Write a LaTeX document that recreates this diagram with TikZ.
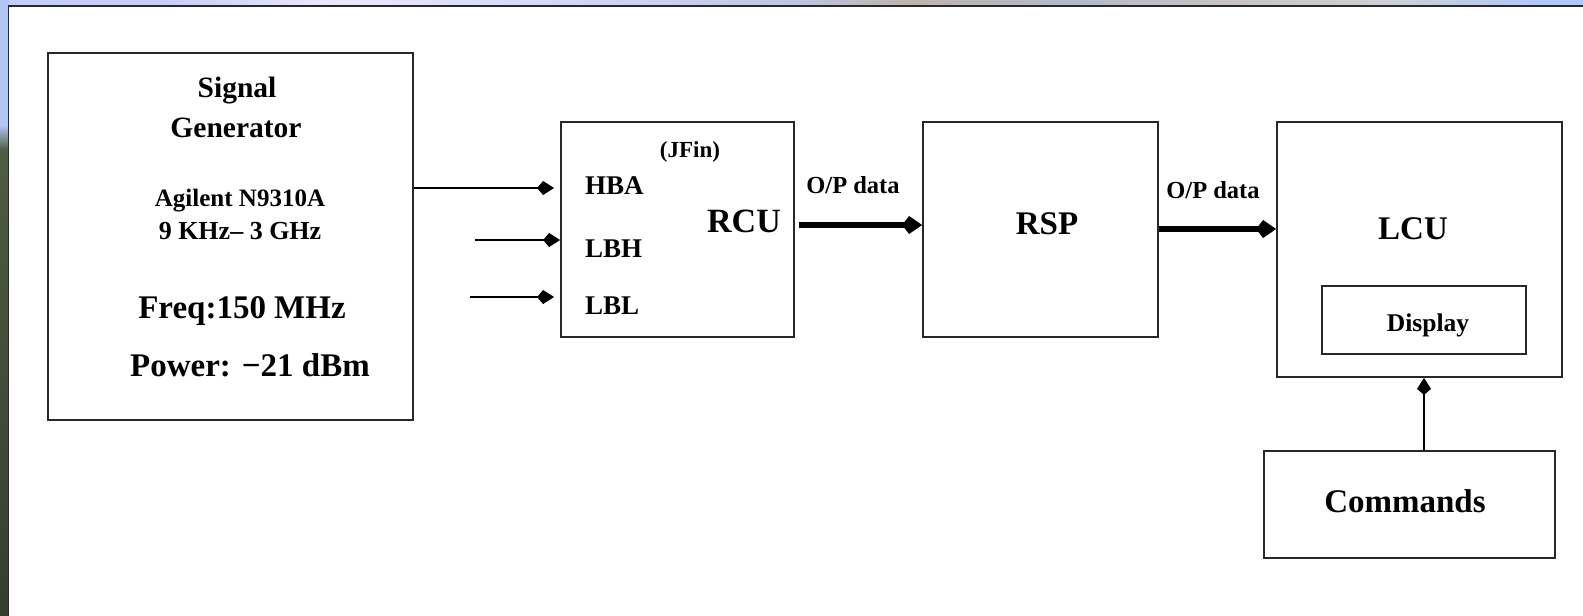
\documentclass[tikz,border=0pt]{standalone}
\usepackage{fontspec}
\setmainfont{Liberation Serif}
\usetikzlibrary{arrows.meta}

\definecolor{skyblue}{RGB}{178,198,242}
\definecolor{skyblueR}{RGB}{168,200,250}
\definecolor{olive}{RGB}{78,92,66}
\definecolor{olivedark}{RGB}{52,62,46}
\definecolor{edge}{RGB}{40,40,40}
\definecolor{tA}{RGB}{200,205,245}
\definecolor{tB}{RGB}{235,232,250}
\definecolor{tC}{RGB}{210,215,245}
\definecolor{tD}{RGB}{190,198,225}
\definecolor{tE}{RGB}{188,180,175}
\definecolor{tF}{RGB}{180,185,200}
\definecolor{tG}{RGB}{200,195,195}
\definecolor{tH}{RGB}{205,208,212}
\definecolor{tI}{RGB}{180,200,245}

% sky strip along the top of the window (positions in a 100bp box)
\pgfdeclarehorizontalshading{topstrip}{100bp}{%
  color(0bp)=(skyblue); color(30.3bp)=(tA); color(35.4bp)=(tB);
  color(43bp)=(tC); color(49.9bp)=(tD); color(53.7bp)=(tE);
  color(58.7bp)=(tF); color(63.8bp)=(tG); color(68.9bp)=(tH);
  color(73.3bp)=(tI); color(100bp)=(skyblueR)}

\tikzset{
  box/.style={draw=edge, line width=1.8pt, fill=white, inner sep=0pt},
  lbl/.style={inner sep=0pt, anchor=base, font=\bfseries},
  lblw/.style={inner sep=0pt, anchor=base west, font=\bfseries},
  thinarrow/.style={draw=black, line width=1.5pt,
    -{Kite[length=17pt,width=14pt,inset=6pt]}},
  thickarrow/.style={draw=black, line width=6.5pt,
    -{Kite[length=20pt,width=18pt,inset=7pt]}},
}

\newcommand{\fs}[1]{\fontsize{#1}{#1}\selectfont}

\begin{document}
\begin{tikzpicture}[x=1pt,y=-1pt]
\useasboundingbox (0,0) rectangle (1583,616);

% window backdrop: sky strip on top, blue-to-olive strip on the left
\shade[shading=topstrip] (0,0) rectangle (1583,6);
\fill[skyblue] (0,0) rectangle (9,125);
\shade[top color=skyblue, bottom color=olive] (0,125) rectangle (9,150);
\shade[top color=olive, bottom color=olivedark] (0,150) rectangle (9,616);

% white page with its dark edge on the left and top
\fill[white] (8,5) rectangle (1583,616);
\draw[edge, line width=1.5pt] (8.5,616) -- (8.5,6) -- (1583,6);

% blocks
\node[box, minimum width=365pt, minimum height=367pt] (sg)  at (230.5,236.5) {};
\node[box, minimum width=233pt, minimum height=215pt] (rcu) at (677.5,229.5) {};
\node[box, minimum width=235pt, minimum height=215pt] (rsp) at (1040.5,229.5) {};
\node[box, minimum width=285pt, minimum height=255pt] (lcu) at (1419.5,249.5) {};
\node[box, minimum width=204pt, minimum height=68pt]  (dsp) at (1424,320) {};
\node[box, minimum width=291pt, minimum height=107pt] (cmd) at (1409.5,504.5) {};

% signal generator text
\node[lbl, font=\bfseries\fs{29.5}] (sgA) at (237,97)  {Signal};
\node[lbl, font=\bfseries\fs{29.5}] (sgB) at (236,137) {Generator};
\node[lbl, font=\bfseries\fs{25}] (sgC) at (240,206) {Agilent N9310A};
\node[lbl, font=\bfseries\fs{26}] (sgD) at (240,239) {9 KHz– 3 GHz};
\node[lbl, font=\bfseries\fs{33}] (sgE) at (242,318) {Freq:150 MHz};
\node[lbl, font=\bfseries\fs{33}] (sgF) at (250,376) {Power: −21 dBm};

% RCU text
\node[lbl, font=\bfseries\fs{23}] (rcuIF) at (690,157) {(JFin)};
\node[lblw, font=\bfseries\fs{27}] (hba) at (585,194) {HBA};
\node[lblw, font=\bfseries\fs{27}] (lbh) at (585,257) {LBH};
\node[lblw, font=\bfseries\fs{27}] (lbl) at (585,314) {LBL};
\node[lbl, font=\bfseries\fs{34}] (rcuT) at (744,232) {RCU};

% other block titles
\node[lbl, font=\bfseries\fs{33}] (rspT) at (1047,234) {RSP};
\node[lbl, font=\bfseries\fs{33}] (lcuT) at (1413,239) {LCU};
\node[lbl, font=\bfseries\fs{25.5}] (dspT) at (1428,331) {Display};
\node[lbl, font=\bfseries\fs{33}] (cmdT) at (1405,512) {Commands};

% data path labels
\node[lbl, font=\bfseries\fs{24.5}] (op1) at (853,193) {O/P data};
\node[lbl, font=\bfseries\fs{24.5}] (op2) at (1213,198) {O/P data};

% connector ends
\coordinate (yHBA) at (0,188);
\coordinate (lbhIn) at (475,240);
\coordinate (lblIn) at (470,297);
\coordinate (y1) at (0,225);
\coordinate (y2) at (0,229);
\coordinate (xC) at (1424,0);

% inputs to the RCU
\draw[thinarrow, shorten >=6pt] (sg.east |- yHBA) -- (rcu.west |- yHBA);
\draw[thinarrow] (lbhIn) -- (rcu.west |- lbhIn);
\draw[thinarrow, shorten >=6pt] (lblIn) -- (rcu.west |- lblIn);

% output data flow
\draw[thickarrow, shorten <=4pt] (rcu.east |- y1) -- (rsp.west |- y1);
\draw[thickarrow] (rsp.east |- y2) -- (lcu.west |- y2);

% commands into the LCU
\draw[thinarrow] (cmd.north -| xC) -- (lcu.south -| xC);
\end{tikzpicture}
\end{document}
